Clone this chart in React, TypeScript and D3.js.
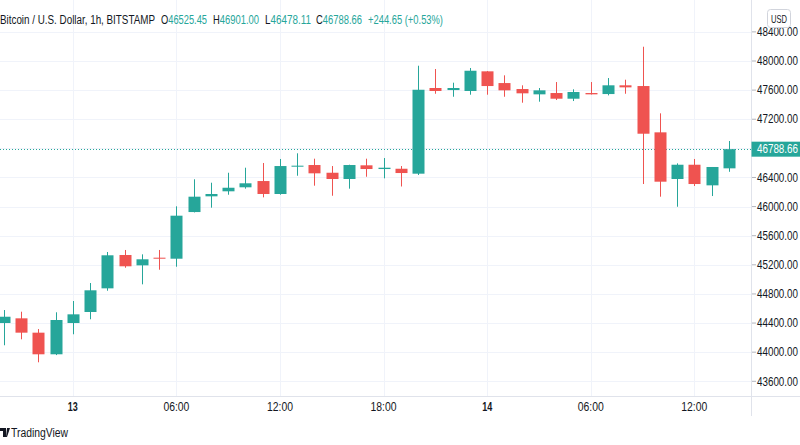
import { useMemo } from "react";
import * as d3 from "d3";

const width = 800;
const height = 445;
const plot = { left: 0, right: 751, top: 0, bottom: 396 };
const font = "'Liberation Sans', Arial, sans-serif";
const up = "#26a69a";
const down = "#ef5350";
const grid = "#f0f3fa";
const textColor = "#131722";

// hourly candles, first one is 12 Aug 20:00 UTC
const firstCandle = new Date(Date.UTC(2021, 7, 12, 20));
const opens = [44401, 44465, 44268, 43971, 44401, 44552, 44877, 45335, 45193, 45298, 45284, 45925, 46141, 46210, 46265, 46351, 46173, 46548, 46571, 46465, 46379, 46567, 46516, 46520, 46452, 47629, 47601, 47588, 47858, 47697, 47615, 47542, 47560, 47482, 47560, 47546, 47666, 47656, 47020, 46379, 46575, 46292, 46525.45];
const highs = [44579, 44556, 44318, 44548, 44703, 44950, 45376, 45404, 45344, 45404, 46004, 46375, 46328, 46465, 46534, 46599, 46654, 46732, 46658, 46557, 46575, 46658, 46667, 46557, 47935, 47890, 47702, 47904, 47862, 47803, 47666, 47629, 47711, 47611, 47711, 47766, 47743, 48196, 47281, 46594, 46654, 46544, 46901];
const lows = [44095, 44177, 43861, 43960, 44246, 44452, 44844, 45160, 44932, 45133, 45174, 45920, 45985, 46163, 46246, 46127, 46163, 46424, 46287, 46149, 46246, 46410, 46388, 46276, 46434, 47550, 47509, 47537, 47537, 47509, 47427, 47441, 47464, 47450, 47540, 47528, 47550, 46310, 46136, 45998, 46283, 46145, 46478.11];
const closes = [44487, 44268, 43971, 44442, 44520, 44850, 45331, 45180, 45276, 45284, 45875, 46136, 46173, 46259, 46320, 46173, 46557, 46562, 46457, 46379, 46571, 46516, 46534, 46461, 47605, 47588, 47629, 47866, 47656, 47597, 47556, 47597, 47482, 47574, 47542, 47666, 47638, 47001, 46342, 46575, 46310, 46544, 46788.66];

const priceTicks = [43600, 44000, 44400, 44800, 45200, 45600, 46000, 46400, 46800, 47200, 47600, 48000, 48400];
const timeTicks = [
  { t: new Date(Date.UTC(2021, 7, 13, 0)), label: "13", day: true },
  { t: new Date(Date.UTC(2021, 7, 13, 6)), label: "06:00", day: false },
  { t: new Date(Date.UTC(2021, 7, 13, 12)), label: "12:00", day: false },
  { t: new Date(Date.UTC(2021, 7, 13, 18)), label: "18:00", day: false },
  { t: new Date(Date.UTC(2021, 7, 14, 0)), label: "14", day: true },
  { t: new Date(Date.UTC(2021, 7, 14, 6)), label: "06:00", day: false },
  { t: new Date(Date.UTC(2021, 7, 14, 12)), label: "12:00", day: false },
];
const lastPrice = 46788.66;
const title = "Bitcoin / U.S. Dollar, 1h, BITSTAMP";
const legend = [
  { k: "O", v: "46525.45", x: 161 },
  { k: "H", v: "46901.00", x: 213 },
  { k: "L", v: "46478.11", x: 265 },
  { k: "C", v: "46788.66", x: 316 },
];
const change = "+244.65 (+0.53%)";

const App = () => {
  const { xScale, yScale, candles, bodyW } = useMemo(() => {
    const xScale = d3
      .scaleUtc()
      .domain([new Date(Date.UTC(2021, 7, 12, 19, 47)), new Date(Date.UTC(2021, 7, 14, 15, 17))])
      .range([plot.left, plot.right]);
    const yScale = d3.scaleLinear().domain([43600, 48000]).range([381.3, 61]);
    const times = d3.utcHour.range(firstCandle, d3.utcHour.offset(firstCandle, opens.length));
    const candles = times.map((t, i) => ({
      x: xScale(t),
      o: opens[i],
      h: highs[i],
      l: lows[i],
      c: closes[i],
    }));
    const hourPx = xScale(d3.utcHour.offset(firstCandle, 1)) - xScale(firstCandle);
    return { xScale, yScale, candles, bodyW: Math.round(hourPx * 0.7) };
  }, []);

  const yLast = yScale(lastPrice);
  const fmt = d3.format(".2f");

  return (
    <div style={{ position: "fixed", left: 0, top: 0, background: "#fff" }}>
      <svg width={width} height={height} fontFamily={font} style={{ display: "block" }}>
        <rect width={width} height={height} fill="#fff" />
        {/* grid */}
        {priceTicks.map((p) => (
          <line key={p} x1={0} x2={plot.right} y1={Math.round(yScale(p)) + 0.5} y2={Math.round(yScale(p)) + 0.5} stroke={grid} />
        ))}
        {timeTicks.map((d, i) => (
          <line key={i} x1={Math.round(xScale(d.t)) + 0.5} x2={Math.round(xScale(d.t)) + 0.5} y1={0} y2={plot.bottom} stroke={grid} />
        ))}

        {/* last price line */}
        <line x1={0} x2={plot.right} y1={Math.round(yLast) + 0.5} y2={Math.round(yLast) + 0.5} stroke={up} strokeDasharray="1 2" />

        {/* candles */}
        {candles.map((d, i) => {
          const color = d.c >= d.o ? up : down;
          const x = Math.round(d.x);
          const top = yScale(Math.max(d.o, d.c));
          const bot = yScale(Math.min(d.o, d.c));
          return (
            <g key={i}>
              <line x1={x + 0.5} x2={x + 0.5} y1={yScale(d.h)} y2={yScale(d.l)} stroke={color} />
              <rect x={x - bodyW / 2 + 0.5} y={top} width={bodyW} height={Math.max(1, bot - top)} fill={color} />
            </g>
          );
        })}

        {/* axes borders */}
        <line x1={0} x2={width} y1={plot.bottom + 0.5} y2={plot.bottom + 0.5} stroke="#e0e3eb" />
        <line x1={plot.right + 0.5} x2={plot.right + 0.5} y1={0} y2={416} stroke="#e0e3eb" />

        {/* price axis */}
        {priceTicks.map((p) => (
          <g key={p} transform={`translate(0, ${yScale(p)})`}>
            <line x1={plot.right + 1} x2={plot.right + 5} stroke="#b2b5be" />
            <text x={757} dy="0.35em" fontSize={12} fill={textColor} textLength={41} lengthAdjust="spacingAndGlyphs">
              {fmt(p)}
            </text>
          </g>
        ))}
        <rect x={plot.right + 0.5} y={yLast - 7.5} width={width - plot.right} height={15} fill={up} />
        <text x={757} y={yLast} dy="0.35em" fontSize={12} fill="#fff" textLength={41} lengthAdjust="spacingAndGlyphs">
          {fmt(lastPrice)}
        </text>
        <rect x={767.5} y={9.5} width={23} height={18} rx={3} fill="#fff" stroke="#d1d4dc" />
        <text x={771} y={19} dy="0.35em" fontSize={11} fill={textColor} textLength={16} lengthAdjust="spacingAndGlyphs">
          USD
        </text>

        {/* time axis */}
        {timeTicks.map((d, i) => (
          <text
            key={i}
            x={xScale(d.t) - (d.day ? 5 : 13)}
            y={407}
            dy="0.35em"
            fontSize={12}
            fontWeight={d.day ? "bold" : "normal"}
            fill={textColor}
            textLength={d.day ? 10 : 26}
            lengthAdjust="spacingAndGlyphs"
          >
            {d.label}
          </text>
        ))}

        {/* header legend */}
        <text x={0} y={24} fontSize={12} fill={textColor} textLength={155} lengthAdjust="spacingAndGlyphs">
          {title}
        </text>
        {legend.map((d) => (
          <text key={d.k} x={d.x} y={24} fontSize={12} fill={textColor} textLength={46} lengthAdjust="spacingAndGlyphs">
            {d.k}
            <tspan fill={up}>{d.v}</tspan>
          </text>
        ))}
        <text x={368} y={24} fontSize={12} fill={up} textLength={75} lengthAdjust="spacingAndGlyphs">
          {change}
        </text>

        {/* logo */}
        <path d="M0,428 h6 v9 h-3 v-6 h-3 z M7,428 h3 l-3,9 h-1 z" fill={textColor} />
        <text x={11} y={437} fontSize={12} fill={textColor} textLength={57} lengthAdjust="spacingAndGlyphs">
          TradingView
        </text>
      </svg>
    </div>
  );
};

export default App;
